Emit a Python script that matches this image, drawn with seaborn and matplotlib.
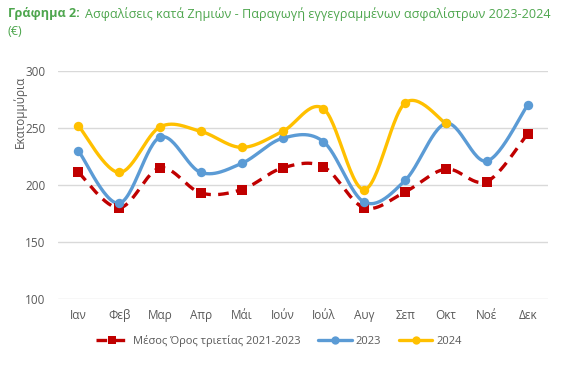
import matplotlib
matplotlib.use("Agg")
import matplotlib.pyplot as plt
from matplotlib.lines import Line2D
import numpy as np
import pandas as pd
import seaborn as sns

months = ['Ιαν', 'Φεβ', 'Μαρ', 'Απρ', 'Μάι', 'Ιούν', 'Ιούλ', 'Αυγ', 'Σεπ', 'Οκτ', 'Νοέ', 'Δεκ']
avg_3y = [211, 180, 215, 193, 196, 215, 216, 180, 194, 214, 203, 245]
y2023 = [230, 184, 242, 211, 219, 241, 238, 185, 204, 254, 221, 270]
y2024 = [252, 211, 251, 247, 233, 247, 267, 196, 272, 254]

labels = ['Μέσος Όρος τριετίας 2021-2023', '2023', '2024']
colors = ['#C00000', '#5B9BD5', '#FFC000']


def smooth(vals, n=30):
    # excel-like smoothed line (catmull-rom through the points)
    p = np.asarray(vals, dtype=float)
    x = np.arange(len(p), dtype=float)
    xs, ys = [], []
    for i in range(len(p) - 1):
        p0 = p[i - 1] if i > 0 else p[i]
        p3 = p[i + 2] if i + 2 < len(p) else p[i + 1]
        x0 = x[i - 1] if i > 0 else x[i]
        x3 = x[i + 2] if i + 2 < len(p) else x[i + 1]
        t = np.linspace(0, 1, n)
        c1y = p[i] + (p[i + 1] - p0) / 6
        c2y = p[i + 1] - (p3 - p[i]) / 6
        c1x = x[i] + (x[i + 1] - x0) / 6
        c2x = x[i + 1] - (x3 - x[i]) / 6
        b = lambda a0, a1, a2, a3: ((1 - t) ** 3 * a0 + 3 * (1 - t) ** 2 * t * a1
                                    + 3 * (1 - t) * t ** 2 * a2 + t ** 3 * a3)
        xs.append(b(x[i], c1x, c2x, x[i + 1]))
        ys.append(b(p[i], c1y, c2y, p[i + 1]))
    return np.concatenate(xs), np.concatenate(ys)


sns.set_theme(style='white')
plt.rcParams['font.family'] = ['Open Sans', 'DejaVu Sans']

fig = plt.figure(figsize=(5.83, 3.66), dpi=100)
ax = fig.add_axes([0.0995, 0.183, 0.8405, 0.623])

dash = (0, (3.2, 2.2))
series = [avg_3y, y2023, y2024]
markers = ['s', 'o', 'o']
styles = [dash, '-', '-']
for vals, lab, col, mk, ls in zip(series, labels, colors, markers, styles):
    sx, sy = smooth(vals)
    df = pd.DataFrame({'x': sx, 'y': sy})
    sns.lineplot(data=df, x='x', y='y', ax=ax, color=col, linewidth=2.4,
                 linestyle=ls, sort=False, estimator=None, zorder=2)
    pts = pd.DataFrame({'x': np.arange(len(vals)), 'y': vals})
    sns.scatterplot(data=pts, x='x', y='y', ax=ax, color=col, marker=mk,
                    s=46, linewidth=0, zorder=3)

ax.set_xlim(-0.5, 11.5)
ax.set_ylim(100, 300)
ax.set_yticks([100, 150, 200, 250, 300])
ax.set_xticks(range(12))
ax.set_xticklabels(months)
ax.yaxis.grid(True, color='#D9D9D9', linewidth=1)
ax.xaxis.grid(False)
for s in ax.spines.values():
    s.set_visible(False)
ax.tick_params(axis='both', colors='#595959', labelsize=8.5, length=0)
ax.tick_params(axis='y', pad=9)
ax.tick_params(axis='x', pad=7)
ax.set_xlabel('')
ax.set_ylabel('Εκατομμύρια', color='#595959', fontsize=8.5)
ax.yaxis.set_label_coords(-0.064, 0.82)

handles = [
    Line2D([], [], color=colors[0], linewidth=2.4, linestyle=dash,
           marker='s', markersize=6, markeredgewidth=0),
    Line2D([], [], color=colors[1], linewidth=2.4, marker='o', markersize=6,
           markeredgewidth=0),
    Line2D([], [], color=colors[2], linewidth=2.4, marker='o', markersize=6,
           markeredgewidth=0),
]
fig.legend(handles, labels, loc='center', bbox_to_anchor=(0.478, 0.068), ncol=3,
           frameon=False, fontsize=8, handlelength=3.0, columnspacing=1.6,
           handletextpad=0.35, labelcolor='#595959')

green = '#4EA64E'
t1 = fig.text(0.013, 0.962, 'Γράφημα 2:', color=green, fontsize=9.1,
              fontweight='bold', va='center')
fig.canvas.draw()
bb = t1.get_window_extent(fig.canvas.get_renderer())
x2 = (bb.x1 + 6) / fig.bbox.width
fig.text(x2, 0.962, 'Ασφαλίσεις κατά Ζημιών - Παραγωγή εγγεγραμμένων ασφαλίστρων 2023-2024',
         color=green, fontsize=9.1, va='center')
fig.text(0.013, 0.913, '(€)', color=green, fontsize=9.1, va='center')

fig.savefig('out.png', dpi=100, facecolor='white')
